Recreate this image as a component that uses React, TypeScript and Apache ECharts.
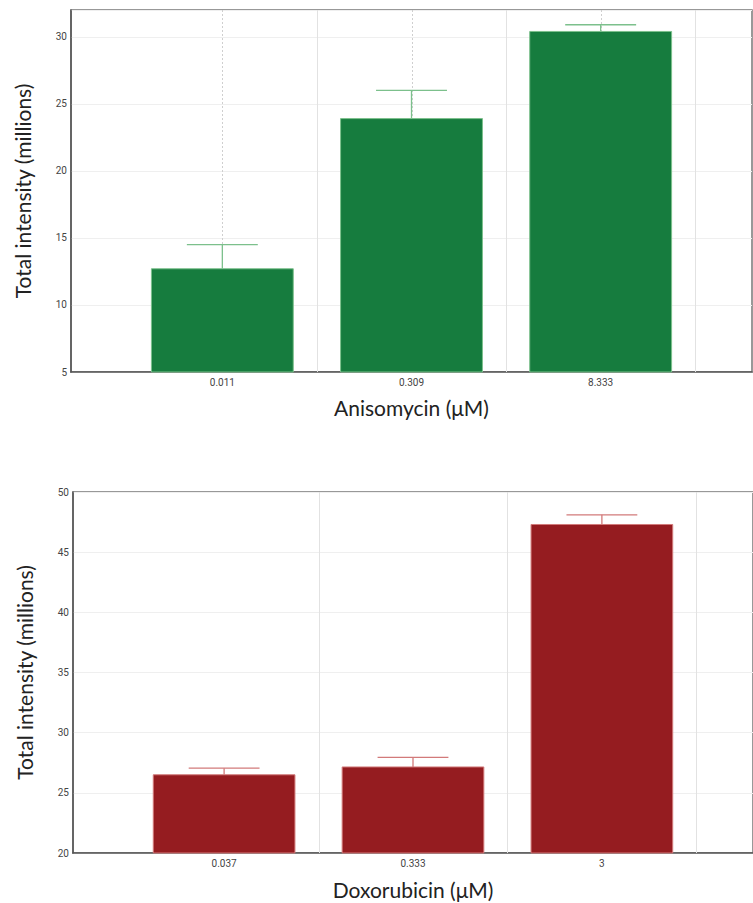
import React, { useEffect, useRef } from "react";
import * as echarts from "echarts";

const topCategories = ["0.011", "0.309", "8.333"];
const topValues = [12.7, 23.9, 30.4];
const topErrorTops = [14.5, 26.0, 30.9];

const bottomCategories = ["0.037", "0.333", "3"];
const bottomValues = [26.5, 27.15, 47.3];
const bottomErrorTops = [27.05, 27.95, 48.1];

const topYTicks = { min: 5, max: 32, interval: 5 };
const bottomYTicks = { min: 20, max: 50, interval: 5 };

const FONT = "Lato";

function barSeries(idx: number, values: number[], errs: number[], yMin: number, fill: string, light: string) {
  const data = values.map((v, i) => [i + 1, v, errs[i]]);
  return {
    type: "custom",
    xAxisIndex: idx,
    yAxisIndex: idx,
    data,
    z: 3,
    renderItem: (params: any, api: any) => {
      const x = api.value(0);
      const v = api.value(1);
      const e = api.value(2);
      const band = api.size([1, 0])[0];
      const w = band * 0.75;
      const base = api.coord([x, yMin]);
      const top = api.coord([x, v]);
      const errTop = api.coord([x, e]);
      const cap = w / 2;
      return {
        type: "group",
        children: [
          {
            type: "rect",
            shape: { x: top[0] - w / 2, y: top[1], width: w, height: base[1] - top[1] },
            style: { fill, stroke: light, lineWidth: 1 },
          },
          {
            type: "line",
            shape: { x1: top[0], y1: top[1], x2: errTop[0], y2: errTop[1] },
            style: { stroke: light, lineWidth: 1.3 },
          },
          {
            type: "line",
            shape: { x1: errTop[0] - cap / 2, y1: errTop[1], x2: errTop[0] + cap / 2, y2: errTop[1] },
            style: { stroke: light, lineWidth: 1.3 },
          },
        ],
      };
    },
  };
}

const boundaryLines = [1.5, 2.5, 3.5];
const centerLines = [1, 2, 3];

function gridLines(idx: number, withCenters: boolean) {
  const data: number[][] = boundaryLines.map((x) => [x, 0]);
  if (withCenters) centerLines.forEach((x) => data.push([x, 1]));
  return {
    type: "custom",
    xAxisIndex: idx,
    yAxisIndex: idx,
    data,
    silent: true,
    z: 1,
    renderItem: (params: any, api: any) => {
      const x = api.value(0);
      const dashed = api.value(1) === 1;
      const cs = params.coordSys;
      const px = Math.round(api.coord([x, 0])[0]) + 0.5;
      return {
        type: "line",
        shape: { x1: px, y1: cs.y, x2: px, y2: cs.y + cs.height },
        style: dashed
          ? { stroke: "#cfcfcf", lineWidth: 1, lineDash: [2, 2] }
          : { stroke: "#e2e2e2", lineWidth: 1 },
      };
    },
  };
}

export default function App() {
  const ref = useRef<HTMLDivElement>(null);
  useEffect(() => {
    if (!ref.current) return;
    const chart = echarts.init(ref.current, null, { renderer: "svg" });
    const xAxisBase = (cats: string[], name: string) => ({
      type: "value",
      min: 0.2,
      max: 3.8,
      name,
      nameLocation: "middle",
      nameGap: 25,
      nameTextStyle: { fontFamily: FONT, fontSize: 21, color: "#222" },
      axisLine: { show: true, onZero: false, lineStyle: { color: "#555", width: 1.5 } },
      axisTick: { show: false },
      splitLine: { show: false },
      axisLabel: {
        customValues: [1, 2, 3],
        formatter: (v: number) => cats[Math.round(v) - 1] ?? "",
        fontFamily: "Roboto",
        fontSize: 10,
        color: "#444",
        margin: 5,
      },
    });
    const yAxisBase = (t: { min: number; max: number; interval: number }) => ({
      type: "value",
      min: t.min,
      max: t.max,
      interval: t.interval,
      name: "Total intensity (millions)",
      nameLocation: "middle",
      nameGap: 38,
      nameTextStyle: { fontFamily: FONT, fontSize: 21, color: "#222" },
      axisLine: { show: true, lineStyle: { color: "#555", width: 1.5 } },
      axisTick: { show: false },
      splitLine: { show: true, lineStyle: { color: "#efefef", width: 1 } },
      axisLabel: {
        showMaxLabel: t.max % t.interval === 0,
        formatter: (v: number) => (v % t.interval === 0 ? String(v) : ""),
        fontFamily: "Roboto",
        fontSize: 10,
        color: "#444",
        margin: 4,
      },
    });
    chart.setOption({
      animation: false,
      backgroundColor: "#fff",
      grid: [
        { left: 71, top: 10, right: 1, height: 362, show: true, borderColor: "#777", borderWidth: 1.5, backgroundColor: "transparent" },
        { left: 73, top: 492, right: 0, height: 361, show: true, borderColor: "#777", borderWidth: 1.5, backgroundColor: "transparent" },
      ],
      xAxis: [
        { ...xAxisBase(topCategories, "Anisomycin (μM)"), gridIndex: 0 },
        { ...xAxisBase(bottomCategories, "Doxorubicin (μM)"), gridIndex: 1, nameGap: 26 },
      ],
      yAxis: [
        { ...yAxisBase(topYTicks), gridIndex: 0 },
        { ...yAxisBase(bottomYTicks), gridIndex: 1 },
      ],
      series: [
        gridLines(0, true),
        gridLines(1, false),
        barSeries(0, topValues, topErrorTops, topYTicks.min, "#167c3e", "#7cc08c"),
        barSeries(1, bottomValues, bottomErrorTops, bottomYTicks.min, "#951c20", "#d27a7a"),
      ],
    });
    return () => chart.dispose();
  }, []);
  return (
    <div
      ref={ref}
      style={{ position: "fixed", left: 0, top: 0, width: 753, height: 903, background: "#fff" }}
    />
  );
}
